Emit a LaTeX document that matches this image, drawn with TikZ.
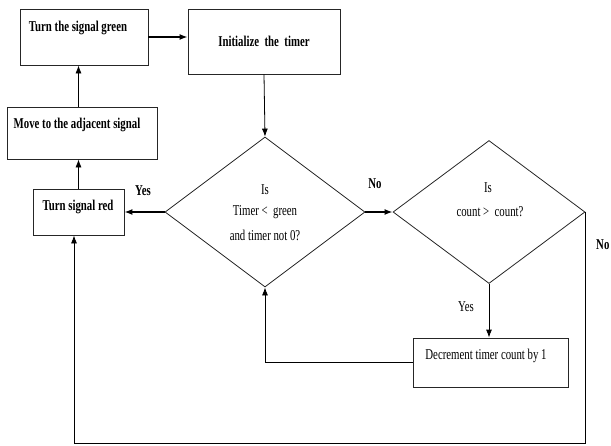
\documentclass[tikz,border=0pt]{standalone}
\usepackage{fontspec}
\setmainfont{Liberation Serif}[FakeStretch=0.72]
\usetikzlibrary{arrows.meta,shapes.geometric,calc}
\begin{document}
\begin{tikzpicture}[x=1pt,y=-1pt,
  font=\fontsize{15}{17}\selectfont,
  box/.style={draw=black!85,line width=0.8pt,inner sep=0pt},
  dia/.style={draw=black!85,line width=0.8pt,diamond,inner sep=0pt},
  lbl/.style={inner sep=0pt},
  flow/.style={draw=black,line width=0.8pt,-{Latex[length=8pt,width=6pt]}},
  thick flow/.style={flow,line width=1.5pt},
  plain/.style={draw=black!85,line width=0.8pt}]
\useasboundingbox (0,0) rectangle (611,445);
% boxes
\node[box,minimum width=128pt,minimum height=56pt] (green) at (84,37) {};
\node[lbl,font=\fontsize{15}{17}\selectfont\bfseries] (tgreen) at (78,28) {Turn the signal green};
\node[box,minimum width=152pt,minimum height=65pt,font=\fontsize{15}{17}\selectfont\bfseries] (init) at (264,41.5) {Initialize\ \ the\ \ timer};
\node[box,minimum width=150pt,minimum height=52pt] (move) at (82,133) {};
\node[lbl,font=\fontsize{15}{17}\selectfont\bfseries] (tmove) at (77,125) {Move to the adjacent signal};
\node[box,minimum width=91pt,minimum height=46pt] (red) at (78.5,212) {};
\node[lbl,font=\fontsize{15}{17}\selectfont\bfseries] (tred) at (78,207) {Turn signal red};
\node[box,minimum width=155pt,minimum height=49pt] (dec) at (490.5,362.5) {};
\node[lbl] (tdec) at (486,356) {Decrement timer count by 1};
% diamonds
\node[dia,minimum width=200pt,minimum height=150pt] (d1) at (265,212) {};
\node[lbl] (d1a) at (265,190) {Is};
\node[lbl] (d1b) at (265,212) {Timer <\ \ green};
\node[lbl] (d1c) at (265,235) {and timer not 0?};
\node[dia,minimum width=192pt,minimum height=143pt] (d2) at (489,212) {};
\node[lbl] (d2a) at (488,188) {Is};
\node[lbl] (d2b) at (490,212) {count >\ \ count?};
% labels
\node[lbl,font=\fontsize{15}{17}\selectfont\bfseries] (yes1) at (143,191) {Yes};
\node[lbl,font=\fontsize{15}{17}\selectfont\bfseries] (no1) at (375,184) {No};
\node[lbl] (yes2) at (466,307) {Yes};
\node[lbl,anchor=west,font=\fontsize{15}{17}\selectfont\bfseries] (no2) at (596,245) {No};
% connectors
\coordinate (bl) at (74,443);
\draw[thick flow] (green.east) -- (green.east -| init.west);
\draw[flow] (init.south) -- (d1.north);
\draw[thick flow] (d1.west) -- (red.east);
\draw[flow] (red.north) -- (red.north |- move.south);
\draw[flow] (move.north -| red.north) -- (green.south -| red.north);
\draw[thick flow] (d1.east) -- (d2.west);
\draw[flow] (d2.south) -- (d2.south |- dec.north);
\draw[flow] (dec.west) -| (d1.south);
\draw[flow] (d2.east) |- (bl) -- (bl |- red.south);
\end{tikzpicture}
\end{document}
